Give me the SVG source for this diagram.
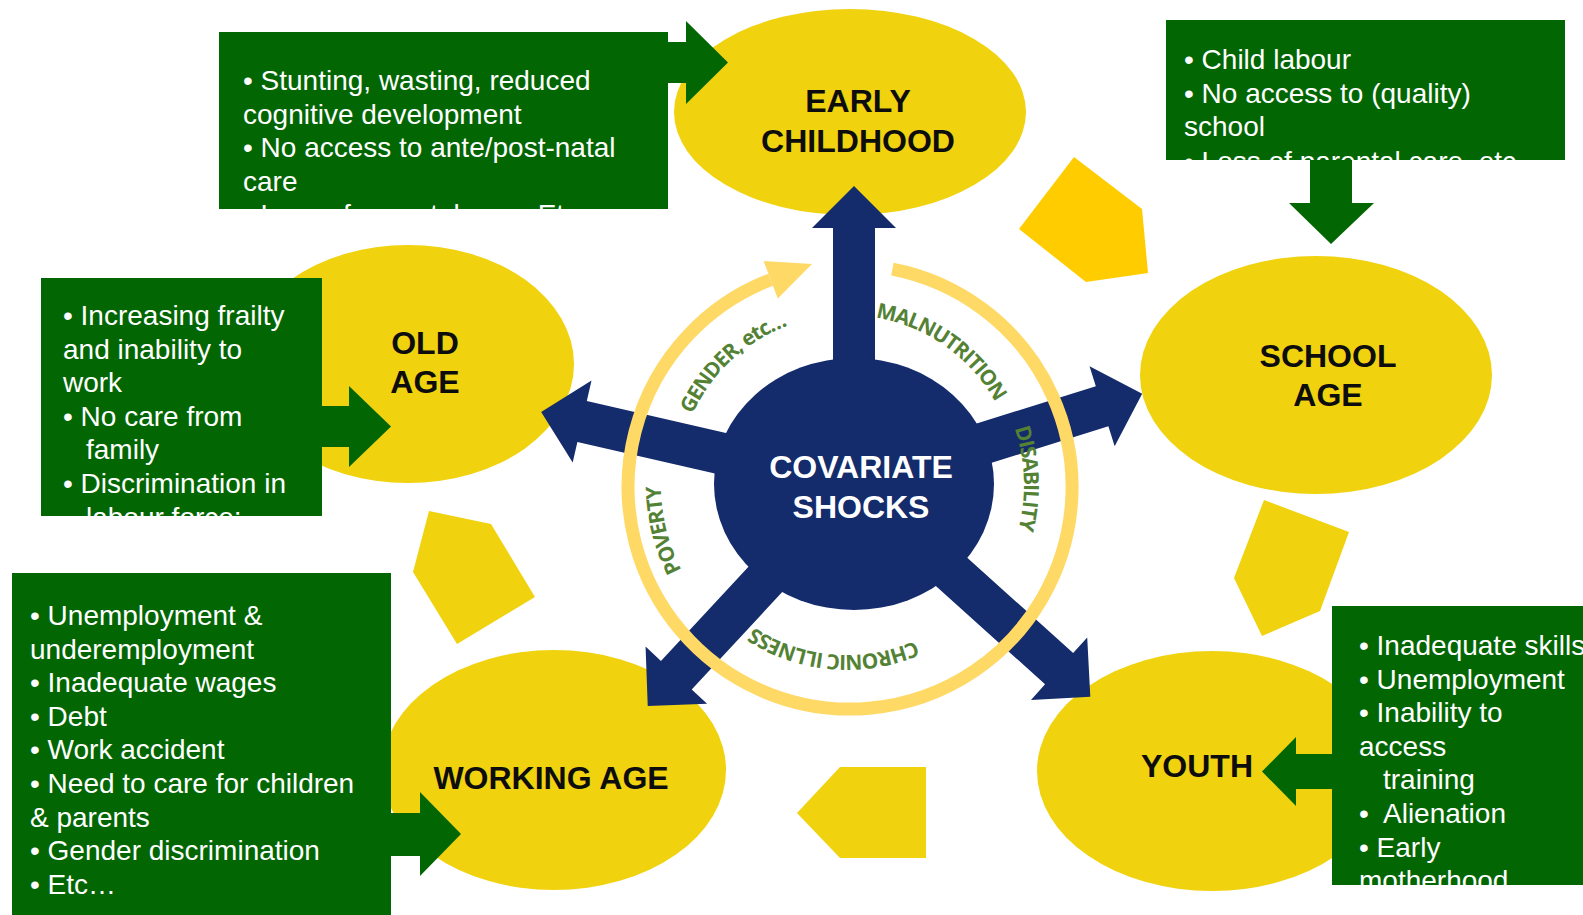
<svg xmlns="http://www.w3.org/2000/svg" width="1583" height="915" viewBox="0 0 1583 915">
<style>
.stage{fill:#F0D20F}
.pent{fill:#F0D20F}
.blue{fill:#142B6C}
.box{fill:#026602}
.lbl{font-family:"Liberation Sans",Arial,sans-serif;font-weight:bold;font-size:32px;fill:#0D0D0D;text-anchor:middle}
.bt{font-family:"Liberation Sans",Arial,sans-serif;font-size:28px;fill:#FFFFFF}
.ring{fill:none;stroke:#FFD966;stroke-width:13}
.rl{font-family:"Open Sans","DejaVu Sans",sans-serif;font-weight:700;font-size:21px;letter-spacing:-1.2px;fill:#548235;text-anchor:middle}
.ctr{font-family:"Liberation Sans",Arial,sans-serif;font-weight:bold;font-size:32px;fill:#FFFFFF;text-anchor:middle}
</style>
<defs>
<path id="lc" d="M847,315 A170,170 0 1 1 847,655 A170,170 0 1 1 847,315"/>
<path id="lcp" d="M847,299 A186,186 0 1 1 847,671 A186,186 0 1 1 847,299"/>
<path id="lcd" d="M847,308 A177,177 0 1 1 847,662 A177,177 0 1 1 847,308"/>
<clipPath id="c1"><rect x="219" y="32" width="449" height="177"/></clipPath>
<clipPath id="c2"><rect x="1166" y="20" width="399" height="140"/></clipPath>
<clipPath id="c3"><rect x="41" y="278" width="281" height="238"/></clipPath>
<clipPath id="c4"><rect x="12" y="573" width="379" height="342"/></clipPath>
<clipPath id="c5"><rect x="1332" y="606" width="260" height="279"/></clipPath>
</defs>
<rect width="1583" height="915" fill="#FFFFFF"/>

<g id="early-childhood"><ellipse class="stage" cx="850" cy="112" rx="176" ry="103"/><text class="lbl" x="858" y="112">EARLY</text><text class="lbl" x="858" y="152">CHILDHOOD</text></g>
<g id="school-age"><ellipse class="stage" cx="1316" cy="375" rx="176" ry="119"/><text class="lbl" x="1328" y="367">SCHOOL</text><text class="lbl" x="1328" y="406">AGE</text></g>
<g id="youth"><ellipse class="stage" cx="1212" cy="771" rx="175" ry="120"/><text class="lbl" x="1197" y="777">YOUTH</text></g>
<g id="working-age"><ellipse class="stage" cx="554" cy="770" rx="172" ry="120"/><text class="lbl" x="551" y="789">WORKING AGE</text></g>
<g id="old-age"><ellipse class="stage" cx="408" cy="364" rx="166" ry="119"/><text class="lbl" x="425" y="354">OLD</text><text class="lbl" x="425" y="393">AGE</text></g>

<g id="connectors">
<polygon class="pent" points="429,511 491,524 535,597 457,644 413,572"/>
<polygon class="pent" points="840,767 926,767 926,858 840,858 797,813"/>
<polygon points="1074,157 1142,209 1148,273 1086,282 1019,229" fill="#FFCC00"/>
<polygon class="pent" points="1264,500 1349,532 1320,611 1262,636 1234,578"/>
<polygon class="blue" transform="translate(854,484) rotate(-90)" points="0,-21 256,-21 256,-42 298,0 256,42 256,21 0,21"/>
<polygon class="blue" transform="translate(854,484) rotate(-17.4)" points="0,-21 260,-21 260,-42 302,0 260,42 260,21 0,21"/>
<polygon class="blue" transform="translate(854,484) rotate(42)" points="0,-21 276,-21 276,-42 318,0 276,42 276,21 0,21"/>
<polygon class="blue" transform="translate(854,484) rotate(132.9)" points="0,-21 261,-21 261,-42 303,0 261,42 261,21 0,21"/>
<polygon class="blue" transform="translate(854,484) rotate(192.95)" points="0,-21 279,-21 279,-42 321,0 279,42 279,21 0,21"/>
</g>

<g id="covariate-shocks"><ellipse class="blue" cx="854" cy="484" rx="140" ry="126"/><text class="ctr" x="861" y="478">COVARIATE</text><text class="ctr" x="861" y="518">SHOCKS</text></g>

<g id="cycle-ring">
<path class="ring" d="M892.4,269.1 A222,222 0 1 1 770.7,279.7"/>
<polygon points="812,264 777.8,298.4 763.6,261" fill="#FFD966"/>
<text class="rl"><textPath href="#lc" startOffset="104">MALNUTRITION</textPath></text>
<text class="rl"><textPath href="#lcd" startOffset="271.2">DISABILITY</textPath></text>
<text class="rl"><textPath href="#lc" startOffset="547.4">CHRONIC ILLNESS</textPath></text>
<text class="rl"><textPath href="#lcp" startOffset="831">POVERTY</textPath></text>
<text class="rl"><textPath href="#lc" startOffset="940">GENDER, etc…</textPath></text>
</g>

<g id="box-early-childhood">
<path class="box" d="M219,32 H668 V42 H686 V21 L728,62.5 L686,104 V83 H668 V209 H219 Z"/>
<g clip-path="url(#c1)"><text class="bt"><tspan x="243" y="90">• Stunting, wasting, reduced</tspan><tspan x="243" y="123.6">cognitive development</tspan><tspan x="243" y="157.2">• No access to ante/post-natal</tspan><tspan x="243" y="190.8">care</tspan><tspan x="243" y="224.4">• Loss of parental care. Etc</tspan></text></g>
</g>
<g id="box-school-age">
<path class="box" d="M1166,20 H1565 V160 H1352 V203 H1374 L1331,244 L1289,203 H1310 V160 H1166 Z"/>
<g clip-path="url(#c2)"><text class="bt"><tspan x="1184" y="69">• Child labour</tspan><tspan x="1184" y="102.6">• No access to (quality)</tspan><tspan x="1184" y="136.2">school</tspan><tspan x="1184" y="171">• Loss of parental care, etc</tspan></text></g>
</g>
<g id="box-old-age">
<path class="box" d="M41,278 H322 V406 H349 V386 L391,426.5 L349,467 V447 H322 V516 H41 Z"/>
<g clip-path="url(#c3)"><text class="bt"><tspan x="63" y="325">• Increasing frailty</tspan><tspan x="63" y="358.6">and inability to</tspan><tspan x="63" y="392.2">work</tspan><tspan x="63" y="425.8">• No care from</tspan><tspan x="86" y="459.4">family</tspan><tspan x="63" y="493">• Discrimination in</tspan><tspan x="86" y="526.6">labour force;</tspan></text></g>
</g>
<g id="box-working-age">
<path class="box" d="M12,573 H391 V813 H420 V792 L461,834 L420,876 V856 H391 V920 H12 Z"/>
<g clip-path="url(#c4)"><text class="bt"><tspan x="30" y="625">• Unemployment &amp;</tspan><tspan x="30" y="658.6">underemployment</tspan><tspan x="30" y="692.2">• Inadequate wages</tspan><tspan x="30" y="725.8">• Debt</tspan><tspan x="30" y="759.4">• Work accident</tspan><tspan x="30" y="793">• Need to care for children</tspan><tspan x="30" y="826.6">&amp; parents</tspan><tspan x="30" y="860.2">• Gender discrimination</tspan><tspan x="30" y="893.8">• Etc…</tspan></text></g>
</g>
<g id="box-youth">
<path class="box" d="M1332,606 H1590 V885 H1332 V789 H1296 V806 L1262,771.5 L1296,737 V754 H1332 Z"/>
<g clip-path="url(#c5)"><text class="bt"><tspan x="1359" y="655">• Inadequate skills</tspan><tspan x="1359" y="688.6">• Unemployment</tspan><tspan x="1359" y="722.2">• Inability to</tspan><tspan x="1359" y="755.8">access</tspan><tspan x="1383" y="789.4">training</tspan><tspan x="1359" y="823">•</tspan><tspan x="1383" y="823">Alienation</tspan><tspan x="1359" y="856.6">• Early</tspan><tspan x="1359" y="890.2">motherhood</tspan></text></g>
</g>
</svg>
